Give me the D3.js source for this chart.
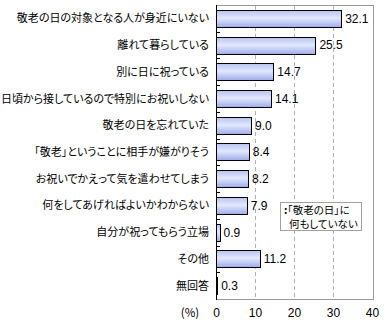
<!DOCTYPE html>
<html>
<head>
<meta charset="utf-8">
<script src="https://cdn.jsdelivr.net/npm/d3@7"></script>
<style>
  html, body { margin: 0; padding: 0; background: #fff; }
  svg { display: block; }
  .jp { font-family: 'Noto Sans CJK JP', sans-serif; font-feature-settings: "palt"; }
</style>
</head>
<body>
<svg id="chart" width="385" height="330"></svg>
<script>
// Reasons given for not doing anything on Respect for the Aged Day (%)
const categories = [
  "敬老の日の対象となる人が身近にいない",
  "離れて暮らしている",
  "別に日に祝っている",
  "日頃から接しているので特別にお祝いしない",
  "敬老の日を忘れていた",
  "「敬老」ということに相手が嫌がりそう",
  "お祝いでかえって気を遣わせてしまう",
  "何をしてあげればよいかわからない",
  "自分が祝ってもらう立場",
  "その他",
  "無回答"
];
const values = [32.1, 25.5, 14.7, 14.1, 9.0, 8.4, 8.2, 7.9, 0.9, 11.2, 0.3];
const xTicks = [0, 10, 20, 30, 40];
const legendLines = ["「敬老の日」に", "何もしていない"];

const svg = d3.select("#chart");
const plotL = 216, plotR = 372, plotT = 5, plotB = 299;
const labelRight = 209;

const x = d3.scaleLinear().domain([0, 40]).range([plotL, plotR]);
const y = d3.scaleBand().domain(categories).range([plotT, plotB]).paddingInner(0.36).paddingOuter(0.18);
const yb = d3.scaleLinear().domain([0, categories.length]).range([plotT, plotB]);

// bar gradient
const defs = svg.append("defs");
const grad = defs.append("linearGradient").attr("id", "barFill")
  .attr("x1", 0).attr("y1", 0).attr("x2", 0).attr("y2", 1);
grad.append("stop").attr("offset", "0%").attr("stop-color", "#b8c3f2");
grad.append("stop").attr("offset", "45%").attr("stop-color", "#e2e8fd");
grad.append("stop").attr("offset", "100%").attr("stop-color", "#9eabea");

// plot frame (top, right, bottom in gray)
svg.append("path")
  .attr("d", `M${plotL},${plotT + 0.5}H${plotR + 1.5}V${plotB + 0.5}H${plotL}`)
  .attr("fill", "none").attr("stroke", "#999").attr("stroke-width", 1)
  .attr("shape-rendering", "crispEdges");

// dashed grid lines
svg.append("g").selectAll("line")
  .data(xTicks.filter(t => t > 0 && t < 40))
  .join("line")
  .attr("x1", d => Math.round(x(d)) + 0.5).attr("x2", d => Math.round(x(d)) + 0.5)
  .attr("y1", plotT + 1).attr("y2", plotB)
  .attr("stroke", "#b0b0b0").attr("stroke-dasharray", "4,3")
  .attr("shape-rendering", "crispEdges");

// bars
svg.append("g").selectAll("rect")
  .data(categories)
  .join("rect")
  .attr("x", plotL + 0.5)
  .attr("y", d => Math.round(y(d)) + 0.5)
  .attr("width", (d, i) => Math.max(0, x(values[i]) - plotL))
  .attr("height", Math.round(y.bandwidth()))
  .attr("fill", "url(#barFill)")
  .attr("stroke", "#000").attr("stroke-width", 1)
  .attr("shape-rendering", "crispEdges");

// value labels
svg.append("g").selectAll("text")
  .data(categories)
  .join("text")
  .attr("x", (d, i) => x(values[i]) + 4)
  .attr("y", d => y(d) + y.bandwidth() / 2)
  .attr("dy", "0.36em")
  .attr("font-family", "'Liberation Sans', Arial, sans-serif")
  .attr("font-size", 12)
  .attr("fill", "#000")
  .text((d, i) => values[i].toFixed(1));

// left axis with small inward ticks at band boundaries
svg.append("line")
  .attr("x1", plotL + 0.5).attr("x2", plotL + 0.5)
  .attr("y1", plotT).attr("y2", plotB + 1)
  .attr("stroke", "#000").attr("shape-rendering", "crispEdges");
svg.append("g").selectAll("line")
  .data(d3.range(1, categories.length))
  .join("line")
  .attr("x1", plotL).attr("x2", plotL + 4)
  .attr("y1", d => Math.round(yb(d)) + 0.5).attr("y2", d => Math.round(yb(d)) + 0.5)
  .attr("stroke", "#000").attr("shape-rendering", "crispEdges");

// category labels (long ones squeezed to fit the left margin)
svg.append("g").selectAll("text")
  .data(categories)
  .join("text")
  .attr("class", "jp")
  .attr("x", labelRight)
  .attr("y", d => y(d) + y.bandwidth() / 2)
  .attr("dy", "0.36em")
  .attr("text-anchor", "end")
  .attr("font-size", 11)
  .attr("fill", "#000")
  .text(d => d)
  .each(function () {
    const w = this.getComputedTextLength();
    if (w > labelRight - 1) {
      d3.select(this).attr("textLength", labelRight - 1).attr("lengthAdjust", "spacingAndGlyphs");
    }
  });

// bottom tick labels
const xAxis = d3.axisBottom(x).tickValues(xTicks).tickSize(0).tickPadding(0);
const gx = svg.append("g").attr("transform", `translate(0,${plotB + 9})`).call(xAxis);
gx.select(".domain").remove();
gx.selectAll("text")
  .attr("font-family", "'Liberation Sans', Arial, sans-serif")
  .attr("font-size", 12)
  .attr("dy", "0.71em")
  .attr("fill", "#000");

svg.append("text")
  .attr("class", "jp")
  .attr("x", 190).attr("y", plotB + 9).attr("dy", "0.8em")
  .attr("text-anchor", "middle")
  .attr("font-size", 11.5)
  .text("(%)");

// legend note
const lg = svg.append("g");
lg.append("rect")
  .attr("x", 280.5).attr("y", 202.5).attr("width", 81).attr("height", 28)
  .attr("fill", "#fff").attr("stroke", "#a0a0a0").attr("shape-rendering", "crispEdges");
const lt = lg.append("text")
  .attr("class", "jp")
  .attr("font-size", 10.5).attr("fill", "#000");
lt.append("tspan").attr("x", 284).attr("y", 213.5).attr("font-weight", "bold").text(":");
lt.append("tspan").text(legendLines[0]);
lt.append("tspan").attr("x", 289).attr("y", 227.5).text(legendLines[1]);
</script>
</body>
</html>
